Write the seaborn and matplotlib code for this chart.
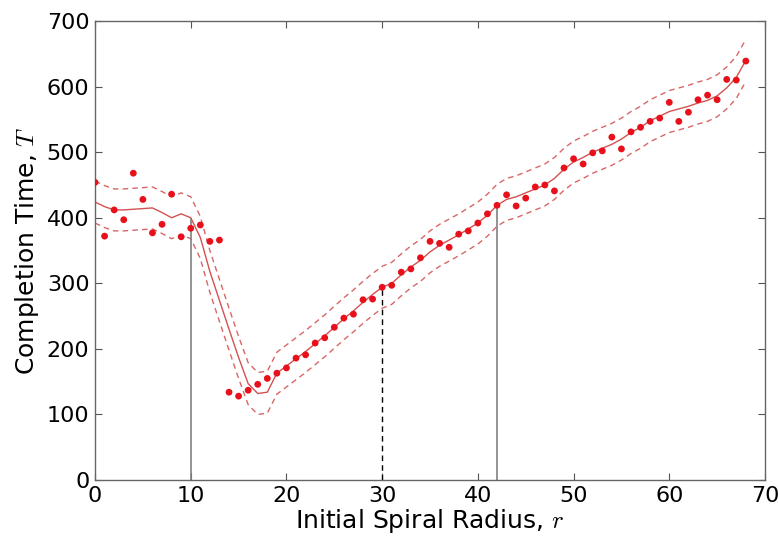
import numpy as np
import pandas as pd
import matplotlib
matplotlib.use("Agg")
import matplotlib.pyplot as plt
import seaborn as sns

# ---- data ----
radius = list(range(0, 69))
completion_time = [454, 372, 412, 397, 468, 428, 377, 390, 436, 371,
                   384, 389, 364, 366, 134, 128, 137, 146, 155, 163,
                   171, 186, 191, 209, 217, 233, 247, 253, 275, 276,
                   294, 297, 317, 322, 339, 364, 361, 355, 375, 380,
                   392, 406, 419, 435, 418, 430, 447, 450, 441, 476,
                   490, 482, 499, 502, 523, 505, 531, 538, 547, 552,
                   576, 547, 561, 580, 587, 580, 611, 610, 639]
fit_mean = [424, 417, 412, 412, 413, 414, 415, 408, 400, 406,
            400, 370, 318, 274, 230, 187, 147, 132, 134, 163,
            174, 185, 196, 208, 220, 233, 246, 258, 271, 283,
            294, 300, 313, 325, 335, 348, 358, 366, 374, 383,
            392, 404, 419, 428, 432, 438, 444, 450, 460, 474,
            485, 492, 500, 506, 512, 520, 530, 538, 548, 555,
            562, 566, 570, 575, 579, 586, 598, 614, 640]
band_half_width = 32
marker_radii = [10, 30, 42]
marker_styles = ["solid", "dashed", "solid"]

df_pts = pd.DataFrame({"r": radius, "T": completion_time})
df_fit = pd.DataFrame({"r": radius, "mean": fit_mean})
df_fit["upper"] = df_fit["mean"] + band_half_width
df_fit["lower"] = df_fit["mean"] - band_half_width

sns.set_style("ticks")
plt.rcParams["font.family"] = ["DejaVu Sans"]
plt.rcParams["mathtext.fontset"] = "cm"
plt.rcParams["text.color"] = "black"
plt.rcParams["axes.labelcolor"] = "black"
plt.rcParams["xtick.labelcolor"] = "black"
plt.rcParams["ytick.labelcolor"] = "black"

fig = plt.figure(figsize=(7.79, 5.40), dpi=100)
ax = fig.add_axes([0.122, 0.111, 0.860, 0.850])

line_col = "#cc3333"
sns.lineplot(data=df_fit, x="r", y="mean", ax=ax, color=line_col, lw=1.0, alpha=0.85)
sns.lineplot(data=df_fit, x="r", y="upper", ax=ax, color=line_col, lw=1.0, alpha=0.75,
             linestyle=(0, (4, 3)))
sns.lineplot(data=df_fit, x="r", y="lower", ax=ax, color=line_col, lw=1.0, alpha=0.75,
             linestyle=(0, (4, 3)))
sns.scatterplot(data=df_pts, x="r", y="T", ax=ax, color="#e8101a", s=24,
                edgecolor="none", zorder=3)

for xr, st in zip(marker_radii, marker_styles):
    top = fit_mean[radius.index(xr)]
    if st == "dashed":
        ax.vlines(xr, 0, top, colors="black", linestyles=(0, (4, 3)), lw=1.0)
    else:
        ax.vlines(xr, 0, top, colors="#808080", linestyles="solid", lw=1.2)

ax.set_xlim(0, 70)
ax.set_ylim(0, 700)
ax.set_xticks(range(0, 71, 10))
ax.set_yticks(range(0, 701, 100))
ax.tick_params(direction="in", top=True, right=True, length=5, width=0.8,
               color="#555555", labelcolor="black", labelsize=16, pad=4)
for s in ax.spines.values():
    s.set_visible(True)
    s.set_color("#666666")
    s.set_linewidth(1.0)
ax.set_xlabel("Initial Spiral Radius, $r$", fontsize=18, labelpad=1)
ax.set_ylabel("Completion Time, $T$", fontsize=18, labelpad=4)

fig.savefig("out.png", dpi=100)
